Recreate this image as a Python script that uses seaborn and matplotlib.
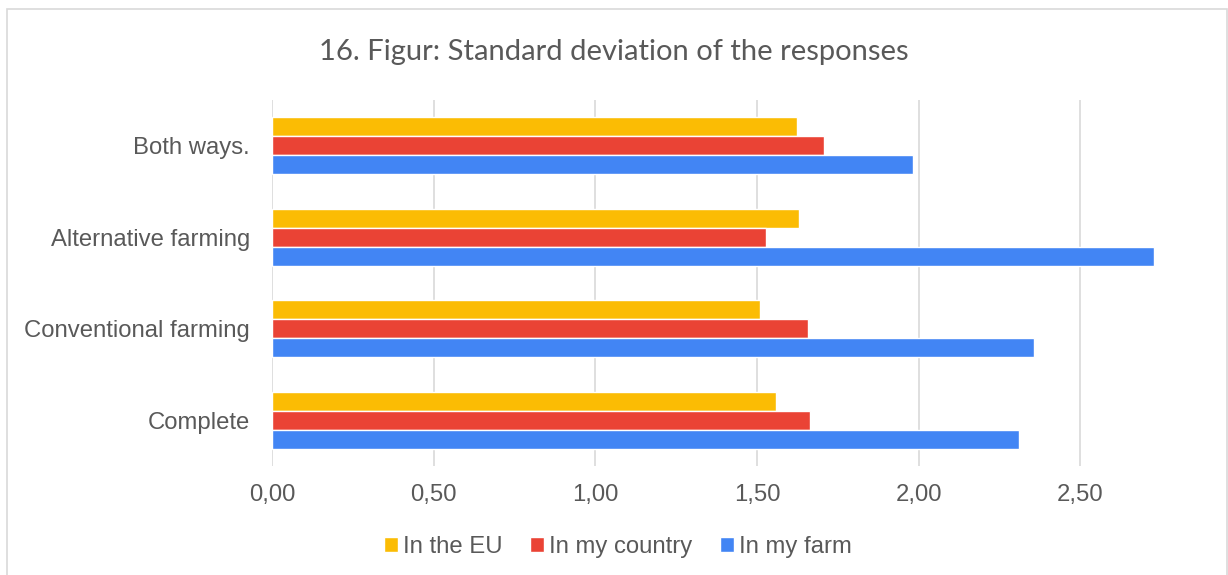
#!/usr/bin/env python3
"""
Horizontal grouped bar chart: standard deviation of the responses
per farming group and scope. Saves out.png.
"""
import pandas as pd
import matplotlib.pyplot as plt
import seaborn as sns
from matplotlib.patches import Rectangle
from matplotlib.ticker import FuncFormatter, MultipleLocator

# Data
categories = ["Both ways.", "Alternative farming", "Conventional farming", "Complete"]
series_names = ["In the EU", "In my country", "In my farm"]
in_the_eu = [1.624, 1.629, 1.509, 1.560]
in_my_country = [1.706, 1.529, 1.658, 1.665]
in_my_farm = [1.983, 2.728, 2.357, 2.312]

colors = ["#FBBC04", "#EA4335", "#4285F4"]
text_grey = "#595959"
grid_grey = "#D9D9D9"


def build_frame():
    rows = []
    for name, values in zip(series_names, [in_the_eu, in_my_country, in_my_farm]):
        for cat, val in zip(categories, values):
            rows.append({"category": cat, "series": name, "value": val})
    return pd.DataFrame(rows)


def main(out_path="out.png"):
    sns.set_theme(style="white")
    plt.rcParams["font.family"] = ["Liberation Sans", "DejaVu Sans"]

    df = build_frame()

    fig = plt.figure(figsize=(12.28, 5.75), dpi=100)
    ax = fig.add_axes([0.2215, 0.1896, 0.7516, 0.6365])

    sns.barplot(
        data=df,
        x="value",
        y="category",
        hue="series",
        order=categories,
        hue_order=series_names,
        palette=colors,
        orient="h",
        width=0.62,
        saturation=1,
        legend=True,
        ax=ax,
    )

    ax.set_xlim(0, 2.855)
    ax.xaxis.set_major_locator(MultipleLocator(0.5))
    ax.xaxis.set_major_formatter(FuncFormatter(lambda v, _: f"{v:.2f}".replace(".", ",")))
    ax.grid(axis="x", color=grid_grey, lw=1.2, zorder=0)
    ax.set_axisbelow(True)
    for side in ax.spines.values():
        side.set_visible(False)
    ax.set_xlabel("")
    ax.set_ylabel("")
    ax.tick_params(axis="x", length=0, pad=13, labelsize=17.2, labelcolor=text_grey)
    ax.tick_params(axis="y", length=0, pad=16, labelsize=17.2, labelcolor=text_grey)

    # legend at the bottom, small square markers
    handles, labels = ax.get_legend_handles_labels()
    ax.get_legend().remove()
    fig.legend(
        handles,
        labels,
        loc="center",
        bbox_to_anchor=(0.503, 0.049),
        ncol=3,
        frameon=False,
        fontsize=17.2,
        labelcolor=text_grey,
        handlelength=0.6,
        handleheight=0.6,
        handletextpad=0.2,
        columnspacing=1.15,
    )

    fig.text(
        0.5,
        0.91,
        "16. Figur: Standard deviation of the responses",
        ha="center",
        va="center",
        fontsize=21,
        color=text_grey,
        family=["Lato", "DejaVu Sans"],
    )

    # thin chart border like the spreadsheet chart area
    fig.patches.append(
        Rectangle(
            (7 / 1228, -0.1),
            1220 / 1228,
            1.1 - 9 / 575,
            transform=fig.transFigure,
            fill=False,
            edgecolor=grid_grey,
            lw=1.2,
        )
    )

    fig.savefig(out_path, dpi=100, facecolor="white")
    plt.close(fig)


if __name__ == "__main__":
    main()
